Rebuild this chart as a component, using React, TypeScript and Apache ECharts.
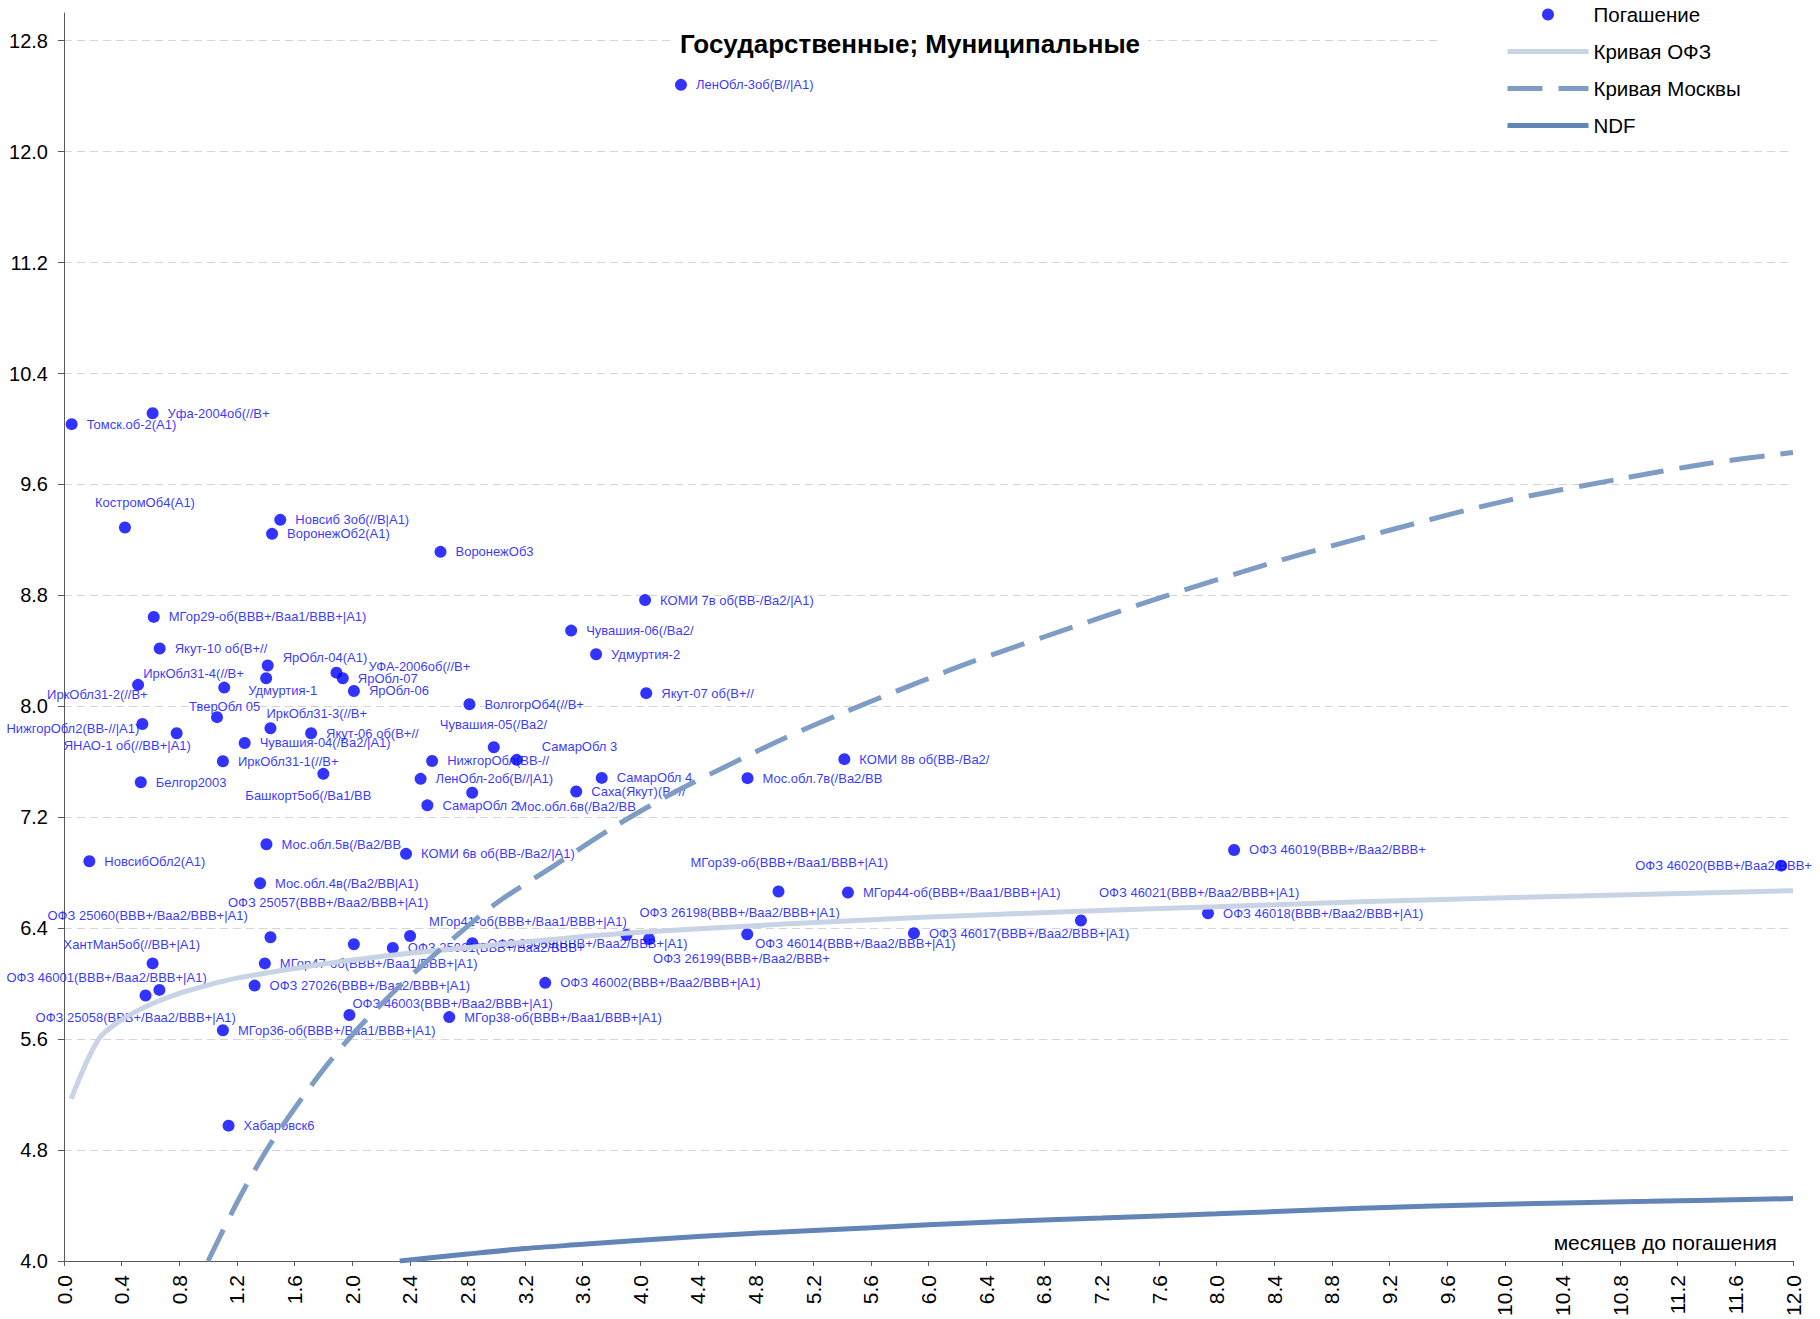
import React, { useEffect, useRef } from "react";
import * as echarts from "echarts";

const FONT = "'Liberation Sans', Arial, Helvetica, sans-serif";

const titleText = "Государственные; Муниципальные";
const xAxisTitle = "месяцев до погашения";
const legendNames = ["Погашение", "Кривая ОФЗ", "Кривая Москвы", "NDF"];

// Bonds: name, months to maturity, yield
const bondNames = [
  "ЛенОбл-3об(В//|А1)", "Уфа-2004об(//В+", "Томск.об-2(А1)", "КостромОб4(А1)",
  "Новсиб 3об(//В|А1)", "ВоронежОб2(А1)", "ВоронежОб3", "КОМИ 7в об(ВВ-/Ba2/|A1)",
  "МГор29-об(BBB+/Baa1/BBB+|A1)", "Чувашия-06(/Ba2/", "Якут-10 об(В+//", "Удмуртия-2",
  "ЯрОбл-04(А1)", "УФА-2006об(//В+", "ЯрОбл-07", "Удмуртия-1",
  "ИркОбл31-4(//В+", "ИркОбл31-2(//В+", "ЯрОбл-06", "Якут-07 об(В+//",
  "ВолгогрОб4(//В+", "ТверОбл 05", "НижгорОбл2(ВВ-//|А1)", "ИркОбл31-3(//В+",
  "ЯНАО-1 об(//ВВ+|А1)", "Якут-06 об(В+//", "Чувашия-04(/Ba2/|A1)", "Чувашия-05(/Ba2/",
  "СамарОбл 3", "НижгорОбл(ВВ-//", "ИркОбл31-1(//В+", "КОМИ 8в об(ВВ-/Ba2/",
  "Башкорт5об(/Ba1/BB", "ЛенОбл-2об(В//|А1)", "СамарОбл 4", "Мос.обл.7в(/Ba2/BB",
  "Белгор2003", "Мос.обл.6в(/Ba2/BB", "Саха(Якут)(В+//", "СамарОбл 2",
  "Мос.обл.5в(/Ba2/BB", "КОМИ 6в об(ВВ-/Ba2/|A1)", "НовсибОбл2(А1)", "ОФЗ 46019(BBB+/Baa2/BBB+",
  "ОФЗ 46020(BBB+/Baa2/BBB+", "Мос.обл.4в(/Ba2/BB|A1)", "МГор39-об(BBB+/Baa1/BBB+|A1)", "МГор44-об(BBB+/Baa1/BBB+|A1)",
  "ОФЗ 46021(BBB+/Baa2/BBB+|A1)", "ОФЗ 46018(BBB+/Baa2/BBB+|A1)", "ОФЗ 25060(BBB+/Baa2/BBB+|A1)", "МГор41-об(BBB+/Baa1/BBB+|A1)",
  "ОФЗ 46014(BBB+/Baa2/BBB+|A1)", "ОФЗ 46017(BBB+/Baa2/BBB+|A1)", "ОФЗ 25057(BBB+/Baa2/BBB+|A1)", "ОФЗ 25061(BBB+/Baa2/BBB+",
  "ОФЗ 25059(BBB+/Baa2/BBB+|A1)", "ОФЗ 26198(BBB+/Baa2/BBB+|A1)", "ОФЗ 26199(BBB+/Baa2/BBB+", "ХантМан5об(//ВВ+|А1)",
  "МГор47-об(BBB+/Baa1/BBB+|A1)", "ОФЗ 46001(BBB+/Baa2/BBB+|A1)", "ОФЗ 25058(BBB+/Baa2/BBB+|A1)", "ОФЗ 27026(BBB+/Baa2/BBB+|A1)",
  "ОФЗ 46002(BBB+/Baa2/BBB+|A1)", "ОФЗ 46003(BBB+/Baa2/BBB+|A1)", "МГор38-об(BBB+/Baa1/BBB+|A1)", "МГор36-об(BBB+/Baa1/BBB+|A1)",
  "Хабаровск6",
];

const bondMonths = [
  4.282, 0.615, 0.053, 0.423,
  1.501, 1.444, 2.613, 4.033,
  0.623, 3.52, 0.664, 3.693,
  1.414, 1.891, 1.935, 1.403,
  1.112, 0.514, 2.012, 4.041,
  2.814, 1.062, 0.544, 1.433,
  0.782, 1.715, 1.254, 2.983,
  3.142, 2.555, 1.103, 5.416,
  1.8, 2.475, 3.732, 4.744,
  0.533, 2.833, 3.555, 2.522,
  1.405, 2.374, 0.176, 8.121,
  11.918, 1.361, 4.959, 5.441,
  7.058, 7.94, 1.433, 2.402,
  4.742, 5.899, 2.012, 2.282,
  2.834, 3.904, 4.061, 0.615,
  1.394, 0.662, 0.566, 1.323,
  3.34, 1.981, 2.674, 1.103,
  1.142,
];

const bondYields = [
  12.482, 10.114, 10.035, 9.29,
  9.345, 9.244, 9.114, 8.766,
  8.645, 8.546, 8.417, 8.376,
  8.294, 8.243, 8.203, 8.203,
  8.135, 8.155, 8.111, 8.095,
  8.015, 7.922, 7.873, 7.842,
  7.806, 7.806, 7.736, 7.705,
  7.614, 7.606, 7.604, 7.619,
  7.513, 7.477, 7.484, 7.482,
  7.453, 7.377, 7.386, 7.286,
  7.005, 6.936, 6.883, 6.964,
  6.851, 6.724, 6.665, 6.657,
  6.456, 6.507, 6.335, 6.344,
  6.356, 6.364, 6.284, 6.258,
  6.292, 6.351, 6.322, 6.146,
  6.146, 5.955, 5.915, 5.986,
  6.006, 5.774, 5.759, 5.664,
  4.976,
];

// label offsets (px, from point centre to label's left/middle) for labels not placed to the right
const labelShift: Record<string, [number, number]> = {
  "КостромОб4(А1)": [-30, -25],
  "ЯрОбл-04(А1)": [15, -8],
  "УФА-2006об(//В+": [32, -6],
  "Удмуртия-1": [-18, 12],
  "ИркОбл31-4(//В+": [-81, -14],
  "ИркОбл31-2(//В+": [-91, 10],
  "ТверОбл 05": [-28, -11],
  "НижгорОбл2(ВВ-//|А1)": [-136, 5],
  "ИркОбл31-3(//В+": [-4, -15],
  "ЯНАО-1 об(//ВВ+|А1)": [-113, 12],
  "Чувашия-05(/Ba2/": [-54, -23],
  "СамарОбл 3": [25, -13],
  "Башкорт5об(/Ba1/BB": [-78, 22],
  "Мос.обл.6в(/Ba2/BB": [44, 14],
  "ОФЗ 46020(BBB+/Baa2/BBB+": [-146, 0],
  "МГор39-об(BBB+/Baa1/BBB+|A1)": [-88, -29],
  "ОФЗ 46021(BBB+/Baa2/BBB+|A1)": [18, -28],
  "ОФЗ 25060(BBB+/Baa2/BBB+|A1)": [-223, -22],
  "МГор41-об(BBB+/Baa1/BBB+|A1)": [19, -14],
  "ОФЗ 46014(BBB+/Baa2/BBB+|A1)": [8, 9],
  "ОФЗ 25057(BBB+/Baa2/BBB+|A1)": [-126, -42],
  "ОФЗ 26198(BBB+/Baa2/BBB+|A1)": [13, -22],
  "ОФЗ 26199(BBB+/Baa2/BBB+": [4, 19],
  "ХантМан5об(//ВВ+|А1)": [-89, -19],
  "ОФЗ 46001(BBB+/Baa2/BBB+|A1)": [-153, -12],
  "ОФЗ 25058(BBB+/Baa2/BBB+|A1)": [-110, 22],
  "ОФЗ 46003(BBB+/Baa2/BBB+|A1)": [3, -12],
};

// Curves
const ofzX = [0.05, 0.24, 0.4, 0.6, 0.8, 1.0, 1.2, 1.6, 2.0, 2.4, 3.0, 3.5, 4.0, 5.0, 6.0, 7.0, 8.0, 9.0, 10.0, 11.0, 12.0];
const ofzY = [5.17, 5.6, 5.74, 5.85, 5.93, 5.99, 6.04, 6.11, 6.17, 6.22, 6.28, 6.33, 6.37, 6.43, 6.48, 6.52, 6.555, 6.59, 6.62, 6.645, 6.67];

const moscowX = [1.0, 1.2, 1.4, 1.6, 1.8, 2.0, 2.2, 2.4, 2.74, 3.0, 3.4, 3.8, 4.2, 4.6, 5.0, 5.4, 5.9, 6.3, 6.8, 7.6, 8.4, 9.2, 10.0, 10.8, 11.4, 12.0];
const moscowY = [4.0, 4.42, 4.79, 5.1, 5.38, 5.63, 5.85, 6.05, 6.36, 6.58, 6.85, 7.12, 7.36, 7.57, 7.77, 7.95, 8.16, 8.32, 8.5, 8.78, 9.04, 9.27, 9.48, 9.64, 9.75, 9.83];

const ndfX = [2.33, 2.8, 3.2, 3.6, 4.0, 4.8, 5.6, 6.4, 7.2, 8.0, 9.0, 10.0, 11.0, 12.0];
const ndfY = [4.0, 4.05, 4.09, 4.12, 4.15, 4.2, 4.24, 4.28, 4.31, 4.34, 4.38, 4.41, 4.43, 4.45];

const pairs = (xs: number[], ys: number[]) => xs.map((x, i) => [x, ys[i]]);

export default function App() {
  const ref = useRef<HTMLDivElement>(null);
  useEffect(() => {
    if (!ref.current) return;
    const chart = echarts.init(ref.current, undefined, { renderer: "svg" });
    const SYM = 12;
    const scatterData = bondNames.map((name, i) => {
      const s = labelShift[name] || [15, 0];
      return {
        name,
        value: [bondMonths[i], bondYields[i]],
        label: { position: [SYM / 2 + s[0], SYM / 2 + s[1]] },
      };
    });
    const fmt = (v: number) => v.toFixed(1);
    chart.setOption({
      animation: false,
      backgroundColor: "#ffffff",
      textStyle: { fontFamily: FONT },
      title: {
        text: titleText,
        left: "center",
        top: 29,
        padding: [2, 8],
        backgroundColor: "#ffffff",
        textStyle: { fontSize: 26, fontWeight: "bold", color: "#000", fontFamily: FONT },
      },
      legend: {
        data: legendNames.map((n, i) =>
          i === 0 ? { name: n } : { name: n, itemStyle: { opacity: 0 } }
        ),
        orient: "vertical",
        left: 1437,
        top: 0,
        padding: [4, 10, 0, 68],
        itemWidth: 81,
        itemHeight: 12,
        itemGap: 16,
        selectedMode: false,
        lineStyle: { width: "inherit" },
        textStyle: { fontSize: 20.5, lineHeight: 16, color: "#000", fontFamily: FONT },
      },
      grid: { left: 64, right: 27, top: 13, bottom: 58, containLabel: false, outerBoundsMode: "none" },
      xAxis: {
        type: "value",
        min: 0,
        max: 12,
        interval: 0.4,
        axisLine: { show: true, onZero: false, lineStyle: { color: "#595959", width: 1 } },
        axisTick: { show: true, length: 5, lineStyle: { color: "#595959" } },
        axisLabel: { rotate: 90, fontSize: 21, margin: 14, color: "#000", fontFamily: FONT, formatter: fmt },
        splitLine: { show: false },
      },
      yAxis: {
        type: "value",
        min: 4,
        max: 13,
        interval: 0.8,
        axisLine: { show: true, onZero: false, lineStyle: { color: "#595959", width: 1 } },
        axisTick: { show: true, length: 6, lineStyle: { color: "#595959" } },
        axisLabel: { fontSize: 20, margin: 16, color: "#000", fontFamily: FONT, formatter: fmt, showMaxLabel: false },
        splitLine: { show: true, showMaxLine: false, lineStyle: { color: "#d4d4d4", width: 1, type: [8, 5] } },
      },
      graphic: [
        { type: "rect", z: 1, shape: { x: 1437, y: 0, width: 383, height: 138 }, style: { fill: "#ffffff" }, silent: true },
        {
          type: "text",
          z: 5,
          x: 1777,
          y: 1242,
          style: { text: xAxisTitle, fontSize: 21, fontFamily: FONT, fill: "#000", align: "right", verticalAlign: "middle" },
        },
      ],
      series: [
        {
          name: "Погашение",
          type: "scatter",
          symbol: "circle",
          symbolSize: SYM,
          z: 2,
          itemStyle: { color: "#0000ff" },
          label: {
            show: true,
            formatter: "{b}",
            color: "#0000ff",
            fontSize: 13,
            fontFamily: FONT,
            align: "left",
            verticalAlign: "middle",
          },
          data: scatterData,
        },
        {
          name: "Кривая ОФЗ",
          type: "line",
          z: 3,
          symbol: "none",
          smooth: 0.3,
          itemStyle: { color: "#c8d3e6" },
          lineStyle: { color: "#c8d3e6", width: 5 },
          data: pairs(ofzX, ofzY),
        },
        {
          name: "Кривая Москвы",
          type: "line",
          z: 3,
          symbol: "none",
          smooth: 0.3,
          itemStyle: { color: "#7f9dc4" },
          lineStyle: { color: "#7f9dc4", width: 5, type: [35, 16] },
          data: pairs(moscowX, moscowY),
        },
        {
          name: "NDF",
          type: "line",
          z: 3,
          symbol: "none",
          smooth: 0.3,
          itemStyle: { color: "#6384b6" },
          lineStyle: { color: "#6384b6", width: 5 },
          data: pairs(ndfX, ndfY),
        },
      ],
    });
    return () => chart.dispose();
  }, []);
  return (
    <div
      ref={ref}
      style={{ position: "absolute", left: 0, top: 0, width: 1820, height: 1319, background: "#fff" }}
    />
  );
}
